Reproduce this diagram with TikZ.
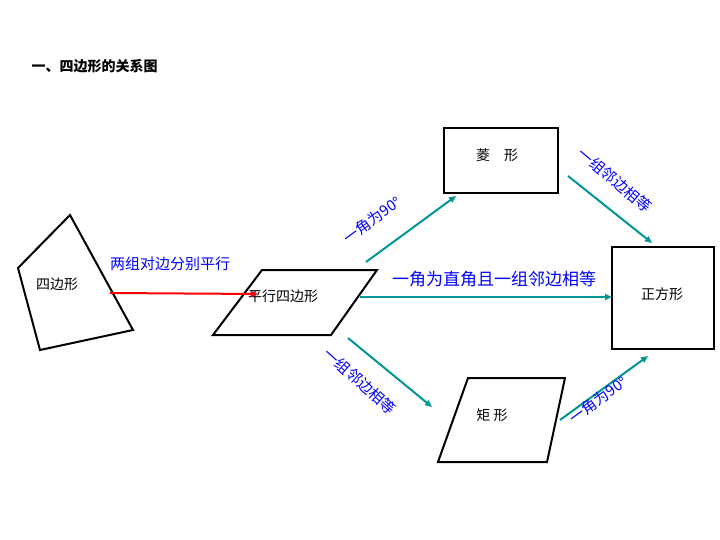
\documentclass[tikz,border=0pt]{standalone}
\usepackage{fontspec}
\setmainfont{Noto Sans CJK SC}
\usetikzlibrary{arrows.meta}
\definecolor{teal1}{RGB}{0,150,150}
\begin{document}
\begin{tikzpicture}[
    x=1pt, y=-1pt,
    outline/.style={draw, line width=2pt, line join=miter},
    link/.style={draw=teal1, line width=2pt, -{Triangle[length=7pt,width=6pt]}},
    lab/.style={text=blue, font=\fontsize{15}{15}\selectfont, inner sep=0pt},
    shapelabel/.style={font=\fontsize{14}{14}\selectfont, inner sep=0pt}
]
\useasboundingbox (0,0) rectangle (720,540);
\node[anchor=west, font=\bfseries\fontsize{14}{14}\selectfont] (title) at (28,66) {一、四边形的关系图};
% shapes
\draw[outline] (18,268) -- (70,215) -- (133,330) -- (40,350) -- cycle;
\node[shapelabel] (quad) at (57,284) {四边形};
\draw[outline] (213,335) -- (262,270) -- (377,270) -- (331,335) -- cycle;
\node[shapelabel] (para) at (283,296) {平行四边形};
\draw[outline] (444,128) rectangle (558,193);
\node[shapelabel] (rhom) at (497,155) {菱\quad 形};
\draw[outline] (612,247) rectangle (714,349);
\node[shapelabel] (squa) at (662,294) {正方形};
\draw[outline] (438,462) -- (468,378) -- (565,378) -- (547,462) -- cycle;
\node[shapelabel] (rect) at (492,415) {矩\ 形};
% connectors
\coordinate (q1) at (110,293); \coordinate (p0) at (258,294);
\draw[draw=red, line width=2pt, -{Triangle[length=7pt,width=6pt]}] (q1) -- (p0);
\node[lab] (l1) at (170,264) {两组对边分别平行};
\coordinate (p1) at (366,262); \coordinate (r0) at (456,196);
\draw[link] (p1) -- (r0);
\node[lab, rotate=36] (l2) at (372,220) {一角为90°};
\coordinate (r1) at (568,176); \coordinate (s0) at (652,243);
\draw[link] (r1) -- (s0);
\node[lab, rotate=-40] (l3) at (615,180) {一组邻边相等};
\coordinate (p2) at (360,297); \coordinate (s1) at (612,297);
\draw[link] (p2) -- (s1);
\node[lab, font=\fontsize{17}{17}\selectfont] (l4) at (494,279) {一角为直角且一组邻边相等};
\coordinate (p3) at (348,338); \coordinate (t0) at (432,407);
\draw[link] (p3) -- (t0);
\node[lab, rotate=-42] (l5) at (360,381) {一组邻边相等};
\coordinate (t1) at (560,420); \coordinate (s2) at (648,356);
\draw[link] (t1) -- (s2);
\node[lab, rotate=36] (l6) at (598,400) {一角为90°};
\end{tikzpicture}
\end{document}
